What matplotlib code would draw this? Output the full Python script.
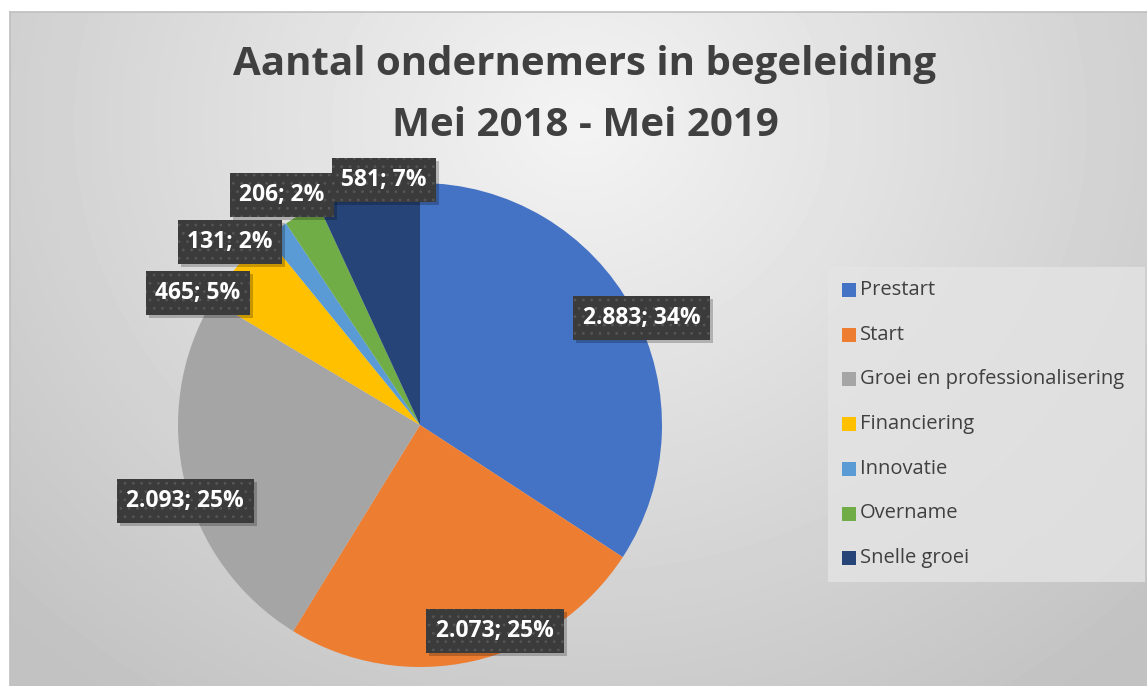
import numpy as np
import matplotlib.pyplot as plt
from matplotlib.patches import Rectangle

categories = ['Prestart', 'Start', 'Groei en professionalisering', 'Financiering',
              'Innovatie', 'Overname', 'Snelle groei']
values = [2883, 2073, 2093, 465, 131, 206, 581]
pct_labels = ['34%', '25%', '25%', '5%', '2%', '2%', '7%']
colors = ['#4472C4', '#ED7D31', '#A5A5A5', '#FFC000', '#5B9BD5', '#70AD47', '#264478']

# label positions in pie-radius units (Excel "best fit" placement)
label_pos = [(0.917, 0.442), (0.31, -0.851), (-0.971, -0.314), (-0.917, 0.545),
             (-0.785, 0.756), (-0.570, 0.950), (-0.149, 1.012)]

W, H = 1147, 686
fig = plt.figure(figsize=(W / 100, H / 100), dpi=100)
fig.patch.set_facecolor('white')

# chart area background: radial gray gradient
bg = fig.add_axes([10 / W, 0, 1 - 10 / W, 1 - 12 / H])
yy, xx = np.mgrid[0:674, 0:1137]
d = np.sqrt(((xx - 570) / 700.0) ** 2 + ((yy - 110) / 620.0) ** 2)
shade = np.clip(0.955 - 0.17 * d, 0.76, 0.96)
bg.imshow(shade, cmap='gray', vmin=0, vmax=1, aspect='auto', interpolation='bilinear')
bg.set_xticks([])
bg.set_yticks([])
for s in ['right', 'bottom']:
    bg.spines[s].set_visible(False)
for s in ['top', 'left']:
    bg.spines[s].set_color('#bfbfbf')
    bg.spines[s].set_linewidth(1.2)

# pie axes
cx, cy, r = 420, 425, 242
lim = 1.25
side = 2 * lim * r
ax = fig.add_axes([(cx - side / 2) / W, (H - cy - side / 2) / H, side / W, side / H])
ax.set_facecolor('none')
wedges, _ = ax.pie(values, colors=colors, startangle=90, counterclock=False,
                   radius=1.0, wedgeprops=dict(linewidth=0))
ax.set_xlim(-lim, lim)
ax.set_ylim(-lim, lim)
ax.set_aspect('equal')
ax.axis('off')

plt.rcParams['hatch.linewidth'] = 0.8
labels = []
for v, p, (lx, ly) in zip(values, pct_labels, label_pos):
    txt = f'{v:,}'.replace(',', '.') + '; ' + p
    t = ax.text(lx, ly, txt, ha='center', va='center', fontsize=16.5, fontweight='bold',
                color='white', family='Open Sans', zorder=5,
                bbox=dict(boxstyle='square,pad=0.42', fc='#3b3b3b', ec='#555555',
                          lw=0, hatch='..'))
    labels.append(t)

# soft shadows behind the label boxes
fig.canvas.draw()
inv = fig.transFigure.inverted()
for t in labels:
    bb = t.get_bbox_patch().get_window_extent()
    (x0, y0), (x1, y1) = inv.transform([(bb.x0 + 3, bb.y0 - 3), (bb.x1 + 3, bb.y1 - 3)])
    ax.add_patch(Rectangle((x0, y0), x1 - x0, y1 - y0, transform=fig.transFigure,
                           fc='black', ec='none', alpha=0.22, zorder=4, clip_on=False))

# title
fig.text(585 / W, 1 - 64 / H, 'Aantal ondernemers in begeleiding', ha='center', va='center',
         fontsize=29, fontweight='bold', color='#404040', family='Open Sans')
fig.text(585 / W, 1 - 125 / H, 'Mei 2018 - Mei 2019', ha='center', va='center',
         fontsize=29, fontweight='bold', color='#404040', family='Open Sans')

# legend
fig.patches.append(Rectangle((828 / W, 1 - 582 / H), 317 / W, 315 / H,
                             transform=fig.transFigure, fc='#e4e4e4', ec='none',
                             alpha=0.8, zorder=1))
for i, (c, lab) in enumerate(zip(colors, categories)):
    y = 290 + 44.7 * i
    fig.patches.append(Rectangle((842 / W, 1 - (y + 7) / H), 14 / W, 14 / H,
                                 transform=fig.transFigure, fc=c, ec='none', zorder=2))
    fig.text(860 / W, 1 - y / H, lab, ha='left', va='center', fontsize=14.5,
             color='#404040', family='Open Sans', zorder=3)

fig.savefig('out.png', dpi=100)
